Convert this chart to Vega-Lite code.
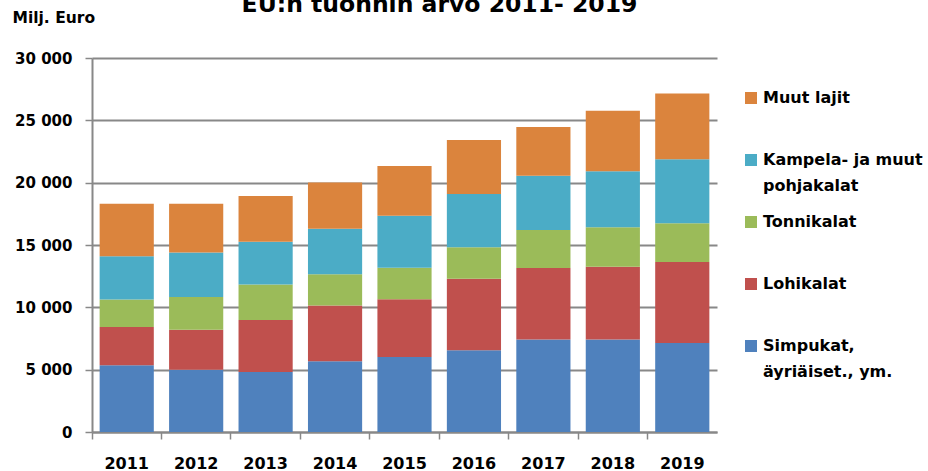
{
  "$schema": "https://vega.github.io/schema/vega-lite/v6.json",
  "width": 625,
  "height": 374,
  "autosize": {"type": "none"},
  "padding": {"left": 92, "top": 58, "right": 211, "bottom": 39},
  "background": "white",
  "config": {"view": {"stroke": null}},
  "title": {
    "text": "EU:n tuonnin arvo 2011- 2019",
    "frame": "group",
    "anchor": "middle",
    "baseline": "alphabetic",
    "offset": -25,
    "dx": 35,
    "font": "DejaVu Sans",
    "fontSize": 23.5,
    "fontWeight": "bold",
    "color": "black"
  },
  "data": {
    "values": [
      {"vuosi": "2011", "laji": "Simpukat, äyriäiset., ym.", "arvo": 5360},
      {"vuosi": "2011", "laji": "Lohikalat", "arvo": 3060},
      {"vuosi": "2011", "laji": "Tonnikalat", "arvo": 2200},
      {"vuosi": "2011", "laji": "Kampela- ja muut pohjakalat", "arvo": 3480},
      {"vuosi": "2011", "laji": "Muut lajit", "arvo": 4210},
      {"vuosi": "2012", "laji": "Simpukat, äyriäiset., ym.", "arvo": 5000},
      {"vuosi": "2012", "laji": "Lohikalat", "arvo": 3210},
      {"vuosi": "2012", "laji": "Tonnikalat", "arvo": 2620},
      {"vuosi": "2012", "laji": "Kampela- ja muut pohjakalat", "arvo": 3560},
      {"vuosi": "2012", "laji": "Muut lajit", "arvo": 3910},
      {"vuosi": "2013", "laji": "Simpukat, äyriäiset., ym.", "arvo": 4810},
      {"vuosi": "2013", "laji": "Lohikalat", "arvo": 4170},
      {"vuosi": "2013", "laji": "Tonnikalat", "arvo": 2860},
      {"vuosi": "2013", "laji": "Kampela- ja muut pohjakalat", "arvo": 3430},
      {"vuosi": "2013", "laji": "Muut lajit", "arvo": 3660},
      {"vuosi": "2014", "laji": "Simpukat, äyriäiset., ym.", "arvo": 5670},
      {"vuosi": "2014", "laji": "Lohikalat", "arvo": 4470},
      {"vuosi": "2014", "laji": "Tonnikalat", "arvo": 2510},
      {"vuosi": "2014", "laji": "Kampela- ja muut pohjakalat", "arvo": 3660},
      {"vuosi": "2014", "laji": "Muut lajit", "arvo": 3710},
      {"vuosi": "2015", "laji": "Simpukat, äyriäiset., ym.", "arvo": 6010},
      {"vuosi": "2015", "laji": "Lohikalat", "arvo": 4630},
      {"vuosi": "2015", "laji": "Tonnikalat", "arvo": 2540},
      {"vuosi": "2015", "laji": "Kampela- ja muut pohjakalat", "arvo": 4170},
      {"vuosi": "2015", "laji": "Muut lajit", "arvo": 3980},
      {"vuosi": "2016", "laji": "Simpukat, äyriäiset., ym.", "arvo": 6550},
      {"vuosi": "2016", "laji": "Lohikalat", "arvo": 5750},
      {"vuosi": "2016", "laji": "Tonnikalat", "arvo": 2510},
      {"vuosi": "2016", "laji": "Kampela- ja muut pohjakalat", "arvo": 4280},
      {"vuosi": "2016", "laji": "Muut lajit", "arvo": 4330},
      {"vuosi": "2017", "laji": "Simpukat, äyriäiset., ym.", "arvo": 7410},
      {"vuosi": "2017", "laji": "Lohikalat", "arvo": 5740},
      {"vuosi": "2017", "laji": "Tonnikalat", "arvo": 3050},
      {"vuosi": "2017", "laji": "Kampela- ja muut pohjakalat", "arvo": 4360},
      {"vuosi": "2017", "laji": "Muut lajit", "arvo": 3900},
      {"vuosi": "2018", "laji": "Simpukat, äyriäiset., ym.", "arvo": 7410},
      {"vuosi": "2018", "laji": "Lohikalat", "arvo": 5850},
      {"vuosi": "2018", "laji": "Tonnikalat", "arvo": 3160},
      {"vuosi": "2018", "laji": "Kampela- ja muut pohjakalat", "arvo": 4490},
      {"vuosi": "2018", "laji": "Muut lajit", "arvo": 4860},
      {"vuosi": "2019", "laji": "Simpukat, äyriäiset., ym.", "arvo": 7140},
      {"vuosi": "2019", "laji": "Lohikalat", "arvo": 6490},
      {"vuosi": "2019", "laji": "Tonnikalat", "arvo": 3110},
      {"vuosi": "2019", "laji": "Kampela- ja muut pohjakalat", "arvo": 5130},
      {"vuosi": "2019", "laji": "Muut lajit", "arvo": 5290}
    ]
  },
  "transform": [
    {"calculate": "indexof(['Muut lajit', 'Kampela- ja muut pohjakalat', 'Tonnikalat', 'Lohikalat', 'Simpukat, äyriäiset., ym.'], datum.laji)", "as": "jarjestys"}
  ],
  "mark": {"type": "bar", "width": {"band": 0.78}},
  "encoding": {
    "x": {
      "field": "vuosi",
      "type": "ordinal",
      "scale": {"paddingInner": 0, "paddingOuter": 0},
      "axis": {
        "title": null,
        "bandPosition": 0,
        "labelAngle": 0,
        "labelFont": "DejaVu Sans",
        "labelFontSize": 16,
        "labelFontWeight": "bold",
        "labelColor": "black",
        "labelPadding": 16,
        "tickSize": 7,
        "tickColor": "#888888",
        "tickWidth": 1.5,
        "domainColor": "#888888",
        "domainWidth": 2,
        "grid": false
      }
    },
    "y": {
      "field": "arvo",
      "type": "quantitative",
      "stack": "zero",
      "scale": {"domain": [0, 30000], "nice": false},
      "axis": {
        "title": "Milj. Euro",
        "titleAngle": 0,
        "titleAlign": "left",
        "titleBaseline": "middle",
        "titleX": -80,
        "titleY": -41,
        "titleFont": "DejaVu Sans",
        "titleFontSize": 15.5,
        "titleFontWeight": "bold",
        "titleColor": "black",
        "values": [0, 5000, 10000, 15000, 20000, 25000, 30000],
        "labelExpr": "replace(format(datum.value, ','), ',', ' ')",
        "labelFont": "DejaVu Sans",
        "labelFontSize": 15,
        "labelFontWeight": "bold",
        "labelColor": "black",
        "labelPadding": 13,
        "tickSize": 7,
        "tickColor": "#888888",
        "tickWidth": 1.5,
        "domainColor": "#888888",
        "domainWidth": 2,
        "grid": true,
        "gridColor": "#888888",
        "gridWidth": 2
      }
    },
    "color": {
      "field": "laji",
      "type": "nominal",
      "scale": {
        "domain": ["Muut lajit", "Kampela- ja muut pohjakalat", "Tonnikalat", "Lohikalat", "Simpukat, äyriäiset., ym."],
        "range": ["#DB843D", "#4BACC6", "#9BBB59", "#C0504D", "#4F81BD"]
      },
      "legend": {
        "title": null,
        "orient": "none",
        "legendX": 651,
        "legendY": 32,
        "padding": 0,
        "symbolType": "square",
        "symbolSize": 144,
        "symbolStrokeWidth": 0,
        "labelFont": "DejaVu Sans",
        "labelFontSize": 16,
        "labelFontWeight": "bold",
        "labelColor": "black",
        "labelBaseline": "middle",
        "labelOffset": 4,
        "labelLimit": 400,
        "rowPadding": 20,
        "labelExpr": "datum.label == 'Kampela- ja muut pohjakalat' ? ['Kampela- ja muut', 'pohjakalat'] : datum.label == 'Simpukat, äyriäiset., ym.' ? ['Simpukat,', 'äyriäiset., ym.'] : [datum.label, '']",
        "encode": {
          "labels": {"update": {"lineHeight": {"value": 26}}}
        }
      }
    },
    "order": {"field": "jarjestys", "type": "quantitative", "sort": "descending"}
  }
}
